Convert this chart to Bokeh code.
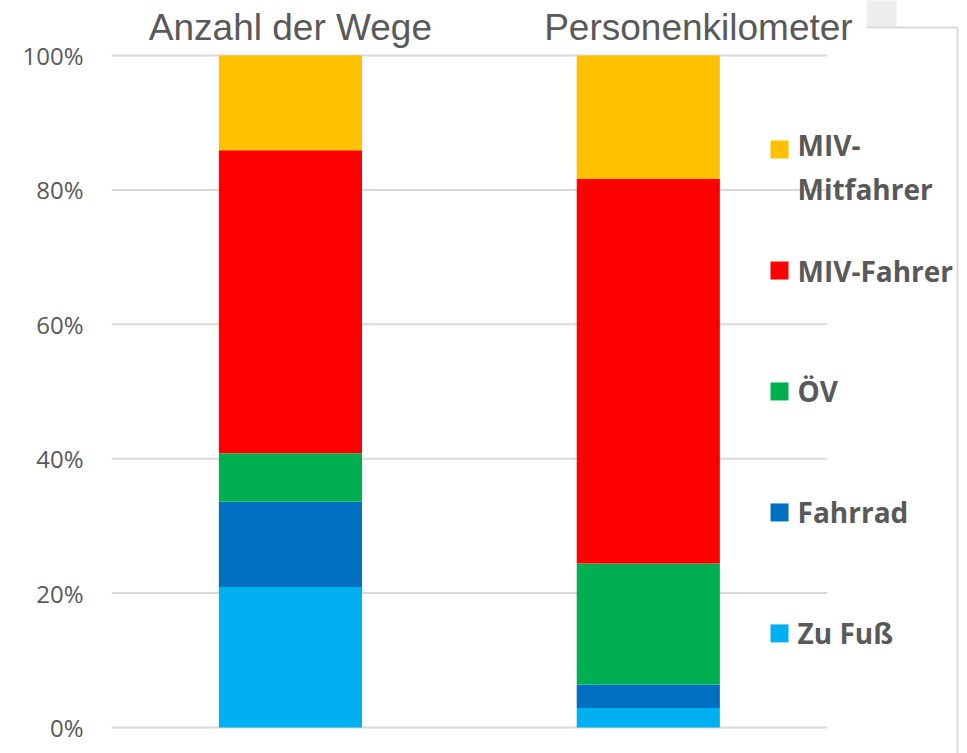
from bokeh.plotting import figure
from bokeh.models import ColumnDataSource, Range1d, FixedTicker
from bokeh.core.properties import value
from bokeh.embed import file_html
from bokeh.resources import INLINE

# ---- data ----
groups = ["Anzahl der Wege", "Personenkilometer"]
modes = ["Zu Fuß", "Fahrrad", "ÖV", "MIV-Fahrer", "MIV-Mitfahrer"]
zu_fuss = [20.9, 2.9]
fahrrad = [12.7, 3.5]
oev = [7.2, 18.0]
miv_fahrer = [45.1, 57.2]
miv_mitfahrer = [14.1, 18.4]
mode_colors = ["#00B0F0", "#0070C0", "#00B050", "#FF0000", "#FFC000"]
legend_labels = ["MIV-\nMitfahrer", "MIV-Fahrer", "ÖV", "Fahrrad", "Zu Fuß"]
tick_values = [0, 20, 40, 60, 80, 100]
tick_labels = ["0%", "20%", "40%", "60%", "80%", "100%"]

# ---- layout ----
W, H = 967, 753
LEFT = 111
x_pos = [0, 1]
BAR_W = 0.4
TEXT = "#595959"
GRID = "#d9d9d9"

src = ColumnDataSource(dict(x=x_pos, **{
    "Zu Fuß": zu_fuss, "Fahrrad": fahrrad, "ÖV": oev,
    "MIV-Fahrer": miv_fahrer, "MIV-Mitfahrer": miv_mitfahrer}))

p = figure(width=W, height=H, output_backend="svg", toolbar_location=None,
           x_range=Range1d(-0.5, 1.892), y_range=Range1d(-3.87, 108.18),
           min_border=0, min_border_left=LEFT)
p.outline_line_color = None
p.background_fill_color = "white"
p.xaxis.visible = False
p.xgrid.visible = False
p.ygrid.visible = False

ya = p.yaxis[0]
ya.ticker = FixedTicker(ticks=tick_values)
ya.major_label_overrides = {v: l for v, l in zip(tick_values, tick_labels)}
ya.axis_line_color = None
ya.major_tick_line_color = None
ya.minor_tick_line_color = None
ya.major_tick_out = 0
ya.major_label_standoff = 28
ya.major_label_text_font = "Open Sans"
ya.major_label_text_font_size = "24px"
ya.major_label_text_color = TEXT

# gridlines
p.segment(x0=[-0.5] * len(tick_values), x1=[1.5] * len(tick_values),
          y0=tick_values, y1=tick_values, line_color=GRID, line_width=2)

# stacked bars
p.vbar_stack(modes, x="x", width=BAR_W, source=src, color=mode_colors,
             line_color=None)

# column titles
p.text(x=[0, 1.14], y=[104.2, 104.2], text=groups, text_align="center",
       text_baseline="alphabetic", text_font=value("Liberation Sans"),
       text_font_size="37px", text_color=TEXT)

# legend (top to bottom)
leg_colors = mode_colors[::-1]
leg_y = [86, 68, 50, 32, 14]
p.scatter(x=[1.3667] * 5, y=leg_y, marker="square", size=18,
          color=leg_colors, line_color=None)
p.text(x=[1.417] * 5, y=leg_y, text=legend_labels,
       y_offset=[17, 0, 0, 0, 0],
       text_align="left", text_baseline="middle",
       text_font=value("Open Sans"), text_font_style="bold",
       text_font_size="28px", text_color=TEXT, text_line_height=1.16)

# chart frame decoration (top right)
p.quad(left=[1.610], right=[1.694], bottom=[104.17], top=[108.5],
       fill_color="#eeeeee", line_color=None)
p.segment(x0=[1.610, 1.864], x1=[1.864, 1.864], y0=[104.17, 104.17],
          y1=[104.17, -4], line_color=GRID, line_width=2)

open("out.html", "w").write(file_html(p, INLINE))
